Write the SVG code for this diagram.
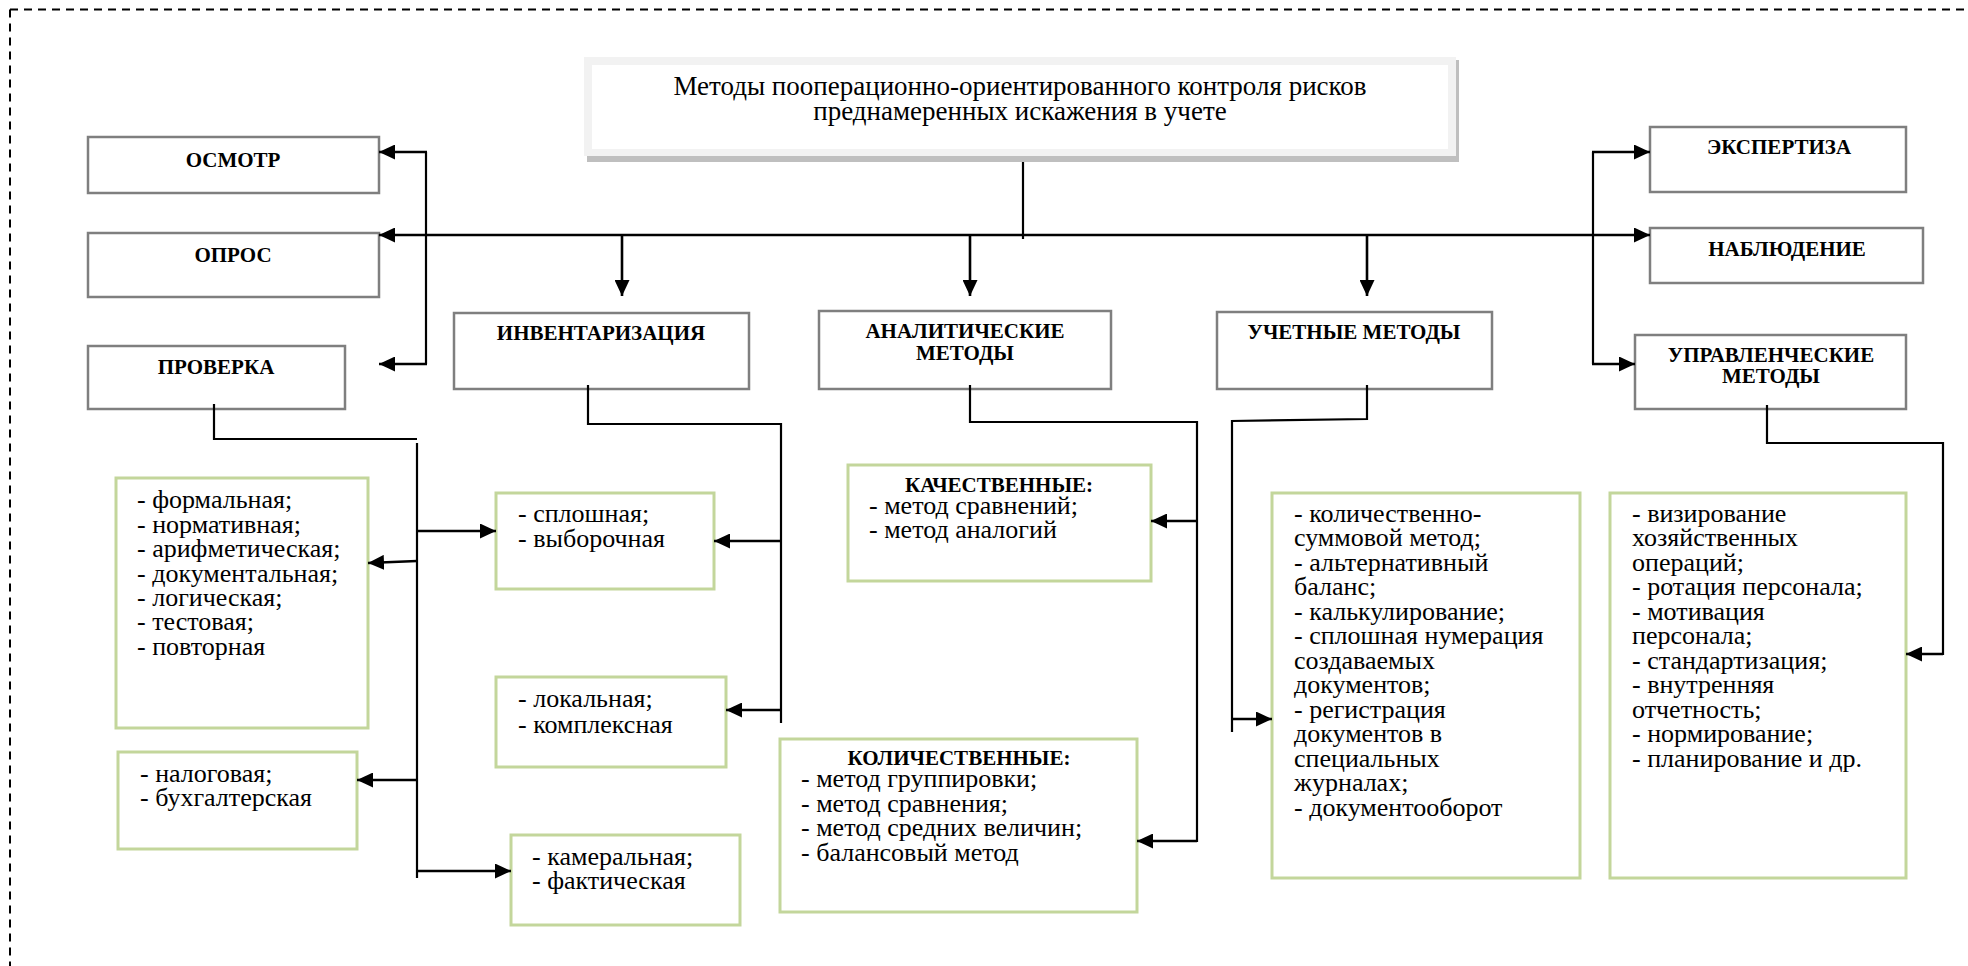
<svg xmlns="http://www.w3.org/2000/svg" width="1968" height="966" viewBox="0 0 1968 966">
<defs>
<marker id="ah" markerUnits="userSpaceOnUse" markerWidth="16" markerHeight="15" refX="16" refY="7.5" orient="auto">
<path d="M0,0 L16,7.5 L0,15 z" fill="#000"/>
</marker>
<style>
text{font-family:'Liberation Serif','DejaVu Serif',serif}
.gb{fill:#fff;stroke:#7f7f7f;stroke-width:2.5}
.grn{fill:#fff;stroke:#c3d69b;stroke-width:3}
.hd{font-weight:bold;font-size:21px;fill:#000;text-anchor:middle}
.tx{font-size:26px;fill:#000}
.ttl{font-size:27px;fill:#000;text-anchor:middle}
.ln{fill:none;stroke:#000;stroke-width:2.2}
.ar{fill:none;stroke:#000;stroke-width:2.6;marker-end:url(#ah)}
.dash{fill:none;stroke:#000;stroke-width:2;stroke-dasharray:8 6}
</style>
</defs>
<rect width="1968" height="966" fill="#fff"/>
<g id="frame">
<line class="dash" x1="10" y1="9.5" x2="1968" y2="9.5"/>
<line class="dash" x1="10" y1="9.5" x2="10" y2="966"/>
</g>
<g font-family="Liberation Serif, DejaVu Serif, serif">
<g id="title">
<rect x="587" y="60" width="872" height="102" fill="#bfbfbf"/>
<rect x="584" y="57" width="872" height="99" fill="#f2f2f2"/>
<rect x="592" y="65" width="856" height="84" fill="#fff"/>
<text class="ttl" x="1020" y="95">Методы пооперационно-ориентированного контроля рисков</text>
<text class="ttl" x="1020" y="120">преднамеренных искажения в учете</text>
</g>
<g id="osmotr"><rect class="gb" x="88" y="137" width="291" height="56"/><text class="hd" x="233" y="167">ОСМОТР</text></g>
<g id="opros"><rect class="gb" x="88" y="233" width="291" height="64"/><text class="hd" x="233" y="262">ОПРОС</text></g>
<g id="proverka"><rect class="gb" x="88" y="346" width="257" height="63"/><text class="hd" x="216" y="374">ПРОВЕРКА</text></g>
<g id="inv"><rect class="gb" x="454" y="313" width="295" height="76"/><text class="hd" x="601" y="340">ИНВЕНТАРИЗАЦИЯ</text></g>
<g id="anal"><rect class="gb" x="819" y="311" width="292" height="78"/><text class="hd" x="965" y="338">АНАЛИТИЧЕСКИЕ</text><text class="hd" x="965" y="360">МЕТОДЫ</text></g>
<g id="uchet"><rect class="gb" x="1217" y="312" width="275" height="77"/><text class="hd" x="1354" y="339">УЧЕТНЫЕ МЕТОДЫ</text></g>
<g id="expert"><rect class="gb" x="1650" y="127" width="256" height="65"/><text class="hd" x="1779" y="154">ЭКСПЕРТИЗА</text></g>
<g id="nabl"><rect class="gb" x="1650" y="228" width="273" height="55"/><text class="hd" x="1787" y="256">НАБЛЮДЕНИЕ</text></g>
<g id="upr"><rect class="gb" x="1635" y="335" width="271" height="74"/><text class="hd" x="1771" y="362">УПРАВЛЕНЧЕСКИЕ</text><text class="hd" x="1771" y="383">МЕТОДЫ</text></g>
<g id="prov-list"><rect class="grn" x="116" y="478" width="252" height="250"/>
<text class="tx" x="137" y="508.3">- формальная;</text>
<text class="tx" x="137" y="532.7">- нормативная;</text>
<text class="tx" x="137" y="557.1">- арифметическая;</text>
<text class="tx" x="137" y="581.5">- документальная;</text>
<text class="tx" x="137" y="605.9">- логическая;</text>
<text class="tx" x="137" y="630.3">- тестовая;</text>
<text class="tx" x="137" y="654.7">- повторная</text></g>
<g id="inv-1"><rect class="grn" x="496" y="493" width="218" height="96"/>
<text class="tx" x="518" y="521.7">- сплошная;</text>
<text class="tx" x="518" y="547">- выборочная</text></g>
<g id="inv-2"><rect class="grn" x="496" y="677" width="230" height="90"/>
<text class="tx" x="518" y="707">- локальная;</text>
<text class="tx" x="518" y="733">- комплексная</text></g>
<g id="prov-2"><rect class="grn" x="118" y="752" width="239" height="97"/>
<text class="tx" x="140" y="782">- налоговая;</text>
<text class="tx" x="140" y="806">- бухгалтерская</text></g>
<g id="prov-3"><rect class="grn" x="511" y="835" width="229" height="90"/>
<text class="tx" x="532" y="864.6">- камеральная;</text>
<text class="tx" x="532" y="889">- фактическая</text></g>
<g id="kach"><rect class="grn" x="848" y="465" width="303" height="116"/>
<text class="hd" x="999" y="492">КАЧЕСТВЕННЫЕ:</text>
<text class="tx" x="869" y="514">- метод сравнений;</text>
<text class="tx" x="869" y="538">- метод аналогий</text></g>
<g id="kol"><rect class="grn" x="780" y="739" width="357" height="173"/>
<text class="hd" x="959" y="765">КОЛИЧЕСТВЕННЫЕ:</text>
<text class="tx" x="801" y="787.4">- метод группировки;</text>
<text class="tx" x="801" y="812">- метод сравнения;</text>
<text class="tx" x="801" y="836.4">- метод средних величин;</text>
<text class="tx" x="801" y="861">- балансовый метод</text></g>
<g id="uchet-list"><rect class="grn" x="1272" y="493" width="308" height="385"/>
<text class="tx" x="1294" y="521.7">- количественно-</text>
<text class="tx" x="1294" y="546.2">суммовой метод;</text>
<text class="tx" x="1294" y="570.7">- альтернативный</text>
<text class="tx" x="1294" y="595.2">баланс;</text>
<text class="tx" x="1294" y="619.7">- калькулирование;</text>
<text class="tx" x="1294" y="644.2">- сплошная нумерация</text>
<text class="tx" x="1294" y="668.7">создаваемых</text>
<text class="tx" x="1294" y="693.2">документов;</text>
<text class="tx" x="1294" y="717.7">- регистрация</text>
<text class="tx" x="1294" y="742.2">документов в</text>
<text class="tx" x="1294" y="766.7">специальных</text>
<text class="tx" x="1294" y="791.2">журналах;</text>
<text class="tx" x="1294" y="815.7">- документооборот</text></g>
<g id="upr-list"><rect class="grn" x="1610" y="493" width="296" height="385"/>
<text class="tx" x="1632" y="521.7">- визирование</text>
<text class="tx" x="1632" y="546.2">хозяйственных</text>
<text class="tx" x="1632" y="570.7">операций;</text>
<text class="tx" x="1632" y="595.2">- ротация персонала;</text>
<text class="tx" x="1632" y="619.7">- мотивация</text>
<text class="tx" x="1632" y="644.2">персонала;</text>
<text class="tx" x="1632" y="668.7">- стандартизация;</text>
<text class="tx" x="1632" y="693.2">- внутренняя</text>
<text class="tx" x="1632" y="717.7">отчетность;</text>
<text class="tx" x="1632" y="742.2">- нормирование;</text>
<text class="tx" x="1632" y="766.7">- планирование и др.</text></g>
</g>
<g id="connectors">
<line class="ln" x1="1023" y1="162" x2="1023" y2="239"/>
<line class="ar" x1="1023" y1="235" x2="379" y2="235"/>
<line class="ar" x1="1023" y1="235" x2="1650" y2="235"/>
<line class="ar" x1="622" y1="235" x2="622" y2="296"/>
<line class="ar" x1="970" y1="235" x2="970" y2="296"/>
<line class="ar" x1="1367" y1="235" x2="1367" y2="296"/>
<line class="ln" x1="426" y1="152" x2="426" y2="364"/>
<line class="ar" x1="427" y1="152" x2="379" y2="152"/>
<line class="ar" x1="427" y1="364" x2="379" y2="364"/>
<line class="ln" x1="1593" y1="152" x2="1593" y2="364"/>
<line class="ar" x1="1592" y1="152" x2="1650" y2="152"/>
<line class="ar" x1="1592" y1="364" x2="1635" y2="364"/>
<polyline class="ln" points="214,404 214,439 417,439"/>
<line class="ln" x1="417" y1="443" x2="417" y2="878"/>
<line class="ar" x1="417" y1="561" x2="368" y2="563"/>
<line class="ar" x1="417" y1="531" x2="496" y2="531"/>
<line class="ar" x1="417" y1="780" x2="357" y2="780"/>
<line class="ar" x1="417" y1="871" x2="511" y2="871"/>
<polyline class="ln" points="588,385 588,424 781,424 781,723"/>
<line class="ar" x1="781" y1="541" x2="714" y2="541"/>
<line class="ar" x1="781" y1="710" x2="726" y2="710"/>
<polyline class="ln" points="970,385 970,422 1197,422 1197,842"/>
<line class="ar" x1="1197" y1="521" x2="1151" y2="521"/>
<line class="ar" x1="1197" y1="841" x2="1137" y2="841"/>
<polyline class="ln" points="1367,385 1367,419 1232,421 1232,732"/>
<line class="ar" x1="1232" y1="719" x2="1272" y2="719"/>
<polyline class="ln" points="1767,405 1767,443 1943,443 1943,655"/>
<line class="ar" x1="1943" y1="654" x2="1906" y2="654"/>
</g>
</svg>
